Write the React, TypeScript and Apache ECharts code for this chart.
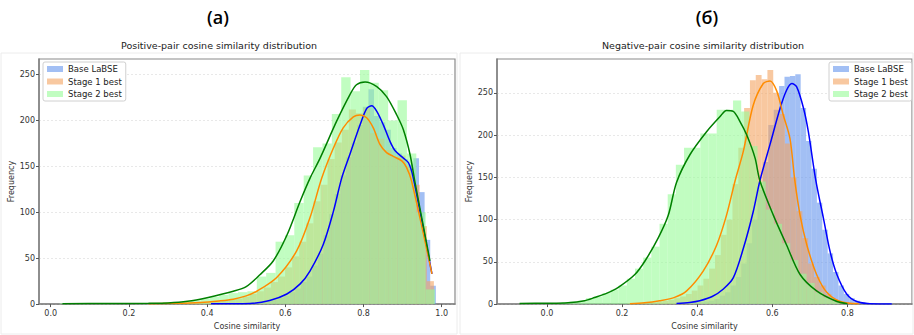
import React, { useEffect, useRef } from 'react';
import * as echarts from 'echarts';

const SERIES_NAMES = ['Base LaBSE', 'Stage 1 best', 'Stage 2 best'];
const POS_X_TICKS = [0, 0.2, 0.4, 0.6, 0.8, 1.0];
const NEG_X_TICKS = [0, 0.2, 0.4, 0.6, 0.8];
const Y_TICKS = [0, 50, 100, 150, 200, 250];

// Positive pairs: histogram ranges [min, max] and 40-bin counts
const posBaseRange = [0.41, 0.985];
const posBaseCounts = [1, 0, 1, 0, 1, 1, 1, 2, 2, 3, 4, 5, 7, 9, 13, 17, 24, 30, 42, 55, 75, 98, 120, 140, 160, 176, 195, 215, 234, 205, 198, 190, 170, 164, 158, 152, 159, 122, 70, 20];
const posS1Range = [0.255, 0.98];
const posS1Counts = [1, 0, 0, 1, 1, 1, 2, 2, 2, 3, 4, 5, 6, 8, 11, 14, 18, 24, 30, 40, 52, 68, 88, 112, 130, 158, 176, 190, 212, 208, 214, 186, 180, 168, 160, 162, 150, 130, 85, 25];
const posS2Range = [0.023, 0.983];
const posS2Counts = [1, 0, 1, 0, 1, 1, 0, 1, 1, 1, 1, 2, 2, 3, 4, 6, 8, 10, 12, 13, 14, 30, 34, 68, 75, 110, 140, 171, 175, 207, 247, 232, 255, 241, 233, 200, 222, 164, 100, 16];

// Positive pairs: KDE curves [x, frequency]
const posBaseKde = [[0.41, 0.3], [0.51, 0.7], [0.56, 4], [0.604, 11], [0.638, 22], [0.663, 36], [0.697, 65], [0.723, 101], [0.744, 137], [0.765, 163], [0.791, 195], [0.808, 213], [0.821, 216], [0.834, 210], [0.851, 195], [0.868, 177], [0.881, 167], [0.902, 159], [0.915, 154], [0.927, 138], [0.975, 33]];
const posS1Kde = [[0.25, 0.3], [0.32, 0.8], [0.382, 1.8], [0.43, 3.5], [0.467, 5.4], [0.5, 9], [0.527, 14], [0.578, 29], [0.629, 58], [0.663, 94], [0.693, 137], [0.723, 170], [0.748, 192], [0.774, 204], [0.791, 206], [0.808, 203], [0.825, 192], [0.842, 174], [0.859, 165], [0.876, 161], [0.898, 156], [0.91, 149], [0.923, 134], [0.975, 33]];
const posS2Kde = [[0.03, 0.5], [0.15, 0.6], [0.25, 0.8], [0.3, 1.2], [0.35, 3], [0.4, 7], [0.467, 14], [0.5, 19], [0.535, 32], [0.569, 47], [0.604, 75], [0.638, 112], [0.663, 137], [0.689, 159], [0.731, 199], [0.765, 228], [0.782, 239], [0.804, 242], [0.834, 237], [0.859, 226], [0.885, 206], [0.902, 190], [0.919, 163], [0.932, 132], [0.97, 47]];

// Negative pairs
const negBaseRange = [0.345, 0.92];
const negBaseCounts = [1, 0, 1, 2, 2, 3, 4, 6, 10, 14, 22, 32, 48, 72, 100, 135, 168, 212, 230, 258, 269, 270, 272, 232, 193, 160, 120, 88, 60, 38, 22, 12, 7, 4, 2, 1, 1, 0, 1, 1];
const negS1Range = [0.215, 0.835];
const negS1Counts = [1, 0, 1, 1, 2, 3, 4, 5, 7, 9, 12, 16, 22, 30, 42, 58, 82, 100, 142, 185, 232, 265, 271, 266, 277, 250, 225, 190, 150, 110, 78, 48, 32, 22, 12, 6, 3, 2, 1, 1];
const negS2Range = [-0.07, 0.8];
const negS2Counts = [1, 0, 1, 1, 1, 2, 3, 4, 7, 9, 13, 17, 22, 30, 42, 55, 68, 95, 130, 165, 185, 185, 202, 202, 230, 230, 241, 228, 187, 145, 112, 95, 72, 52, 36, 25, 14, 8, 4, 1];

const negBaseKde = [[0.345, 0.8], [0.38, 2], [0.407, 4], [0.44, 9], [0.469, 17.6], [0.496, 31], [0.523, 66], [0.549, 109], [0.567, 146], [0.594, 189], [0.621, 232], [0.638, 253], [0.652, 261], [0.665, 257], [0.683, 232], [0.696, 204], [0.716, 146], [0.736, 102], [0.754, 62], [0.772, 35], [0.798, 12], [0.825, 3], [0.86, 0.5], [0.918, 0.2]];
const negS1Kde = [[0.221, 0.5], [0.26, 1.5], [0.3, 4], [0.34, 8], [0.372, 15.6], [0.416, 39], [0.452, 70], [0.478, 105], [0.501, 146], [0.523, 181], [0.549, 235], [0.576, 261], [0.594, 264], [0.612, 252], [0.629, 224], [0.647, 196], [0.66, 146], [0.674, 105], [0.692, 70], [0.718, 35], [0.745, 14], [0.781, 3], [0.83, 0.3]];
const negS2Kde = [[-0.073, 0.8], [0.0, 1], [0.056, 1.6], [0.1, 4], [0.127, 7.8], [0.16, 13], [0.189, 19.5], [0.234, 35], [0.261, 51], [0.296, 78], [0.323, 105], [0.345, 144], [0.381, 177], [0.425, 204], [0.461, 222], [0.478, 229], [0.496, 228], [0.514, 216], [0.532, 200], [0.554, 173], [0.567, 146], [0.603, 105], [0.638, 70], [0.674, 35], [0.718, 15.6], [0.772, 3], [0.8, 0.5]];

const FILLS = ['rgba(100,149,237,0.6)', 'rgba(244,164,96,0.6)', 'rgba(152,251,152,0.6)'];
const LINES = ['#0000ff', '#ff8c00', '#008000'];
const FONT = 'DejaVu Sans';

function binsOf(range: number[], counts: number[]) {
  const w = (range[1] - range[0]) / counts.length;
  return counts.map((c, i) => [range[0] + i * w, range[0] + (i + 1) * w, c]);
}

function histSeries(idx: number, name: string, range: number[], counts: number[], color: string) {
  return {
    type: 'custom',
    name,
    xAxisIndex: idx,
    yAxisIndex: idx,
    silent: true,
    itemStyle: { color },
    encode: { x: [0, 1], y: 2 },
    data: binsOf(range, counts),
    renderItem: (params: any, api: any) => {
      const p0 = api.coord([api.value(0), api.value(2)]);
      const p1 = api.coord([api.value(1), 0]);
      return {
        type: 'rect',
        shape: { x: p0[0], y: p0[1], width: p1[0] - p0[0], height: p1[1] - p0[1] },
        style: { fill: color, stroke: null },
      };
    },
    z: 2,
  };
}

function kdeSeries(idx: number, name: string, data: number[][], color: string) {
  return {
    type: 'line',
    name: name + ' KDE',
    xAxisIndex: idx,
    yAxisIndex: idx,
    data,
    showSymbol: false,
    smooth: 0.3,
    silent: true,
    lineStyle: { color, width: 1.5 },
    z: 5,
  };
}

function xAxis(idx: number, min: number, max: number, ticks: number[]) {
  return {
    type: 'value',
    gridIndex: idx,
    min,
    max,
    name: 'Cosine similarity',
    nameLocation: 'middle',
    nameGap: 15,
    nameTextStyle: { fontSize: 8, color: '#333', fontFamily: FONT },
    axisLine: { show: true, onZero: false, lineStyle: { color: '#808080', width: 1.5 } },
    axisTick: { show: true, length: 3, customValues: ticks, lineStyle: { color: '#555' } },
    axisLabel: { fontSize: 8, color: '#333', fontFamily: FONT, margin: 5, customValues: ticks, formatter: (v: number) => v.toFixed(1) },
    splitLine: { show: false },
  };
}

function yAxis(idx: number, max: number) {
  return {
    type: 'value',
    gridIndex: idx,
    min: 0,
    max,
    interval: 50,
    name: 'Frequency',
    nameLocation: 'middle',
    nameGap: 22,
    nameTextStyle: { fontSize: 8, color: '#333', fontFamily: FONT },
    axisLine: { show: true, onZero: false, lineStyle: { color: '#808080', width: 1.5 } },
    axisTick: { show: true, length: 3, customValues: Y_TICKS, lineStyle: { color: '#555' } },
    axisLabel: { fontSize: 8, color: '#333', fontFamily: FONT, margin: 4, customValues: Y_TICKS },
    splitLine: { show: true, lineStyle: { color: '#e2e2e2', width: 0.8, type: [2, 2] } },
  };
}

function legend(left: number) {
  return {
    orient: 'vertical',
    left,
    top: 62,
    itemWidth: 16,
    itemHeight: 6,
    itemGap: 2.5,
    padding: [2, 4, 2, 4],
    backgroundColor: '#ffffff',
    borderColor: '#d0d0d0',
    borderWidth: 1,
    borderRadius: 2,
    textStyle: { fontSize: 8.5, color: '#222', fontFamily: FONT, lineHeight: 10 },
    selectedMode: false,
    data: SERIES_NAMES.map((n, i) => ({ name: n, icon: 'rect', itemStyle: { color: FILLS[i] } })),
  };
}

export default function App() {
  const ref = useRef<HTMLDivElement>(null);
  useEffect(() => {
    if (!ref.current) return;
    const chart = echarts.init(ref.current, undefined, { renderer: 'svg' });
    const option = {
      animation: false,
      backgroundColor: '#ffffff',
      grid: [
        { left: 39, top: 59, width: 416, height: 248, show: true, borderColor: '#8a8a8a', borderWidth: 1.2, backgroundColor: 'transparent' },
        { left: 497, top: 59, width: 415, height: 248, show: true, borderColor: '#8a8a8a', borderWidth: 1.2, backgroundColor: 'transparent' },
      ],
      xAxis: [xAxis(0, -0.03, 1.034, POS_X_TICKS), xAxis(1, -0.133, 0.972, NEG_X_TICKS)],
      yAxis: [yAxis(0, 267), yAxis(1, 290)],
      legend: [legend(43), legend(829)],
      graphic: [
        { type: 'rect', shape: { x: 1, y: 53, width: 456, height: 281 }, style: { fill: 'none', stroke: '#ececec', lineWidth: 1 }, silent: true },
        { type: 'rect', shape: { x: 460, y: 53, width: 453, height: 281 }, style: { fill: 'none', stroke: '#ececec', lineWidth: 1 }, silent: true },
        { type: 'text', x: 218, y: 17, style: { text: '(a)', fontSize: 18, fontWeight: 600, fontFamily: 'Open Sans', fill: '#000', textAlign: 'center', textVerticalAlign: 'middle' } },
        { type: 'text', x: 707, y: 17, style: { text: '(б)', fontSize: 18, fontWeight: 600, fontFamily: 'Open Sans', fill: '#000', textAlign: 'center', textVerticalAlign: 'middle' } },
        { type: 'text', x: 219, y: 45, style: { text: 'Positive-pair cosine similarity distribution', fontSize: 9.5, fontFamily: FONT, fill: '#222', textAlign: 'center', textVerticalAlign: 'middle' } },
        { type: 'text', x: 703, y: 45, style: { text: 'Negative-pair cosine similarity distribution', fontSize: 9.5, fontFamily: FONT, fill: '#222', textAlign: 'center', textVerticalAlign: 'middle' } },
      ],
      series: [
        histSeries(0, SERIES_NAMES[0], posBaseRange, posBaseCounts, FILLS[0]),
        histSeries(0, SERIES_NAMES[1], posS1Range, posS1Counts, FILLS[1]),
        histSeries(0, SERIES_NAMES[2], posS2Range, posS2Counts, FILLS[2]),
        histSeries(1, SERIES_NAMES[0], negBaseRange, negBaseCounts, FILLS[0]),
        histSeries(1, SERIES_NAMES[1], negS1Range, negS1Counts, FILLS[1]),
        histSeries(1, SERIES_NAMES[2], negS2Range, negS2Counts, FILLS[2]),
        kdeSeries(0, SERIES_NAMES[0], posBaseKde, LINES[0]),
        kdeSeries(0, SERIES_NAMES[1], posS1Kde, LINES[1]),
        kdeSeries(0, SERIES_NAMES[2], posS2Kde, LINES[2]),
        kdeSeries(1, SERIES_NAMES[0], negBaseKde, LINES[0]),
        kdeSeries(1, SERIES_NAMES[1], negS1Kde, LINES[1]),
        kdeSeries(1, SERIES_NAMES[2], negS2Kde, LINES[2]),
      ],
    };
    chart.setOption(option as any);
    return () => chart.dispose();
  }, []);
  return <div ref={ref} style={{ position: 'fixed', left: 0, top: 0, width: 914, height: 335 }} />;
}
